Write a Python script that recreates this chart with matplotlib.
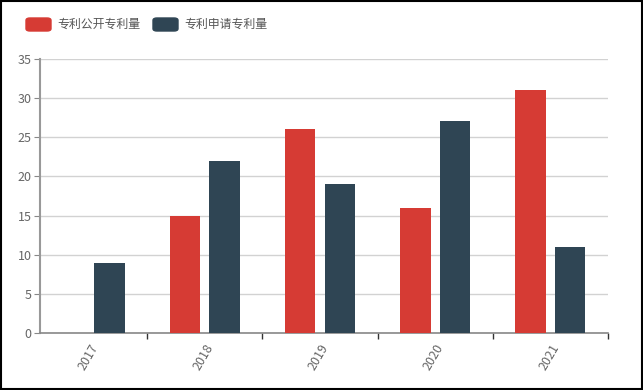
import matplotlib.pyplot as plt
import numpy as np
from matplotlib.patches import FancyBboxPatch, Rectangle

plt.rcParams['font.family'] = ['Noto Sans CJK SC', 'DejaVu Sans']

years = ['2017', '2018', '2019', '2020', '2021']
published = [0, 15, 26, 16, 31]
applied = [9, 22, 19, 27, 11]
series_names = ['专利公开专利量', '专利申请专利量']
colors = ['#d63b34', '#2f4554']

fig = plt.figure(figsize=(6.43, 3.90), dpi=100)
ax = fig.add_axes([0.0622, 0.1449, 0.8834, 0.7051])

x = np.arange(len(years))
w = 0.265
ax.bar(x - 0.172, published, width=w, color=colors[0], zorder=3)
ax.bar(x + 0.172, applied, width=w, color=colors[1], zorder=3)

ax.set_xlim(-0.43, 4.5)
ax.set_ylim(0, 35)
ax.set_yticks(range(0, 36, 5))
ax.yaxis.grid(True, color='#d2d2d2', linewidth=1, zorder=0)

ax.set_xticks(x)
ax.set_xticklabels(years, rotation=60, ha='right', va='top', rotation_mode='anchor')
ax.set_xticks(np.arange(0.5, 5, 1), minor=True)
ax.tick_params(axis='x', which='major', length=0, pad=6, labelsize=9, labelcolor='#666666')
ax.tick_params(axis='x', which='minor', length=4, color='#333333', width=1)
ax.tick_params(axis='y', length=4, color='#888888', labelsize=9, labelcolor='#666666', pad=2)

for s in ['top', 'right']:
    ax.spines[s].set_visible(False)
ax.spines['left'].set_color('#999999')
ax.spines['left'].set_linewidth(1.5)
ax.spines['bottom'].set_color('#888888')
ax.spines['bottom'].set_linewidth(1.2)

# legend drawn as rounded swatches with labels
W, H = 643, 390
for i, (name, c) in enumerate(zip(series_names, colors)):
    x0 = [26, 153][i]
    fig.patches.append(FancyBboxPatch((x0 / W, 1 - 31 / H), 25 / W, 13 / H,
                                      boxstyle='round,pad=0,rounding_size=0.006',
                                      transform=fig.transFigure, color=c))
    fig.text((x0 + 31) / W, 1 - 24 / H, name, fontsize=8.6, color='#555555',
             va='center', ha='left')

# outer frame
fig.patches.append(Rectangle((0.001, 0.002), 0.997, 0.995, transform=fig.transFigure,
                             fill=False, edgecolor='black', linewidth=1.5))

fig.savefig('out.png', dpi=100)
